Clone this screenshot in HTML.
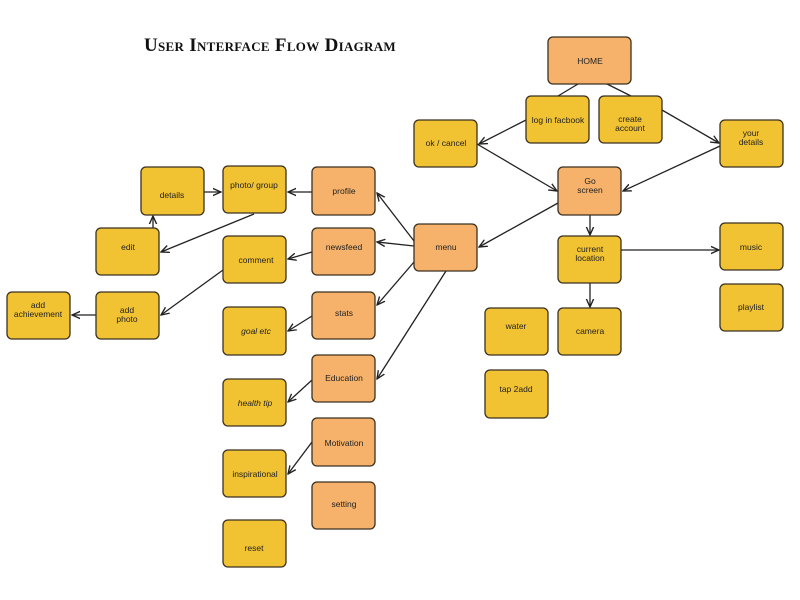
<!DOCTYPE html>
<html><head><meta charset="utf-8"><style>
html,body{margin:0;padding:0;background:#fff;}
svg{display:block;}
text{font-family:"Liberation Sans",sans-serif;font-size:8.5px;fill:#222;text-anchor:middle;}
.y{fill:#F1C232;stroke:#3b3120;stroke-width:1.3;}
.o{fill:#F6B26B;stroke:#3b3120;stroke-width:1.3;}
line{stroke:#222;stroke-width:1.3;}
</style></head><body>
<svg width="800" height="600" viewBox="0 0 800 600" xmlns="http://www.w3.org/2000/svg">
<defs><marker id="a" viewBox="0 0 10 10" refX="9" refY="5" markerWidth="7" markerHeight="7" orient="auto"><path d="M0,1 L9,5 L0,9" fill="none" stroke="#222" stroke-width="1.5"/></marker></defs>
<text x="270" y="51" style="font-family:'Liberation Serif',serif;font-size:19px;font-variant:small-caps;font-weight:bold;fill:#111;letter-spacing:0.3px">User Interface Flow Diagram</text>

<!-- connectors -->
<line x1="578" y1="84" x2="558" y2="96"/>
<line x1="607" y1="84" x2="631" y2="96"/>
<line x1="526" y1="120" x2="479" y2="144" marker-end="url(#a)"/>
<line x1="662" y1="110" x2="719" y2="143" marker-end="url(#a)"/>
<line x1="477" y1="144" x2="557" y2="191" marker-end="url(#a)"/>
<line x1="720" y1="146" x2="623" y2="191" marker-end="url(#a)"/>
<line x1="558" y1="203" x2="479" y2="247" marker-end="url(#a)"/>
<line x1="590" y1="215" x2="590" y2="235" marker-end="url(#a)"/>
<line x1="621" y1="250" x2="719" y2="250" marker-end="url(#a)"/>
<line x1="590" y1="283" x2="590" y2="307" marker-end="url(#a)"/>
<line x1="414" y1="241" x2="377" y2="193" marker-end="url(#a)"/>
<line x1="414" y1="246" x2="377" y2="242" marker-end="url(#a)"/>
<line x1="414" y1="262" x2="377" y2="305" marker-end="url(#a)"/>
<line x1="446" y1="271" x2="377" y2="379" marker-end="url(#a)"/>
<line x1="312" y1="192" x2="288" y2="192" marker-end="url(#a)"/>
<line x1="312" y1="252" x2="288" y2="259" marker-end="url(#a)"/>
<line x1="312" y1="316" x2="288" y2="331" marker-end="url(#a)"/>
<line x1="312" y1="380" x2="288" y2="402" marker-end="url(#a)"/>
<line x1="312" y1="442" x2="288" y2="474" marker-end="url(#a)"/>
<line x1="204" y1="192" x2="221" y2="192" marker-end="url(#a)"/>
<line x1="254" y1="214" x2="161" y2="252" marker-end="url(#a)"/>
<line x1="153" y1="228" x2="153" y2="216" marker-end="url(#a)"/>
<line x1="223" y1="270" x2="161" y2="315" marker-end="url(#a)"/>
<line x1="96" y1="315" x2="72" y2="315" marker-end="url(#a)"/>

<!-- nodes -->
<rect class="o" x="548" y="37" width="83" height="47" rx="5"/><text x="590" y="64">HOME</text>
<rect class="y" x="526" y="96" width="63" height="47" rx="5"/><text x="558" y="123">log in facbook</text>
<rect class="y" x="599" y="96" width="63" height="47" rx="5"/><text x="630" y="122">create</text><text x="630" y="131">account</text>
<rect class="y" x="414" y="120" width="63" height="47" rx="5"/><text x="446" y="146">ok / cancel</text>
<rect class="y" x="720" y="120" width="63" height="47" rx="5"/><text x="751" y="136">your</text><text x="751" y="145">details</text>
<rect class="o" x="558" y="167" width="63" height="48" rx="5"/><text x="590" y="184">Go</text><text x="590" y="193">screen</text>
<rect class="o" x="414" y="224" width="63" height="47" rx="5"/><text x="446" y="250">menu</text>
<rect class="y" x="558" y="236" width="63" height="47" rx="5"/><text x="590" y="252">current</text><text x="590" y="261">location</text>
<rect class="y" x="720" y="223" width="63" height="47" rx="5"/><text x="751" y="250">music</text>
<rect class="y" x="720" y="284" width="63" height="47" rx="5"/><text x="751" y="310">playlist</text>
<rect class="y" x="485" y="308" width="63" height="47" rx="5"/><text x="516" y="329">water</text>
<rect class="y" x="558" y="308" width="63" height="47" rx="5"/><text x="590" y="334">camera</text>
<rect class="y" x="485" y="370" width="63" height="48" rx="5"/><text x="516" y="392">tap 2add</text>

<rect class="o" x="312" y="167" width="63" height="48" rx="5"/><text x="344" y="194">profile</text>
<rect class="o" x="312" y="228" width="63" height="47" rx="5"/><text x="344" y="250">newsfeed</text>
<rect class="o" x="312" y="292" width="63" height="47" rx="5"/><text x="344" y="316">stats</text>
<rect class="o" x="312" y="355" width="63" height="47" rx="5"/><text x="344" y="381">Education</text>
<rect class="o" x="312" y="418" width="63" height="48" rx="5"/><text x="344" y="446">Motivation</text>
<rect class="o" x="312" y="482" width="63" height="47" rx="5"/><text x="344" y="507">setting</text>

<rect class="y" x="223" y="166" width="63" height="47" rx="5"/><text x="254" y="188">photo/ group</text>
<rect class="y" x="223" y="236" width="63" height="47" rx="5"/><text x="256" y="263">comment</text>
<rect class="y" x="223" y="307" width="63" height="48" rx="5"/><text x="256" y="334" style="font-style:italic">goal etc</text>
<rect class="y" x="223" y="379" width="63" height="47" rx="5"/><text x="255" y="406" style="font-style:italic">health tip</text>
<rect class="y" x="223" y="450" width="63" height="47" rx="5"/><text x="255" y="477">inspirational</text>
<rect class="y" x="223" y="520" width="63" height="47" rx="5"/><text x="254" y="551">reset</text>

<rect class="y" x="141" y="167" width="63" height="48" rx="5"/><text x="172" y="198">details</text>
<rect class="y" x="96" y="228" width="63" height="47" rx="5"/><text x="128" y="250">edit</text>
<rect class="y" x="96" y="292" width="63" height="47" rx="5"/><text x="127" y="313">add</text><text x="127" y="322">photo</text>
<rect class="y" x="7" y="292" width="63" height="47" rx="5"/><text x="38" y="308">add</text><text x="38" y="317">achievement</text>
</svg>
</body></html>
